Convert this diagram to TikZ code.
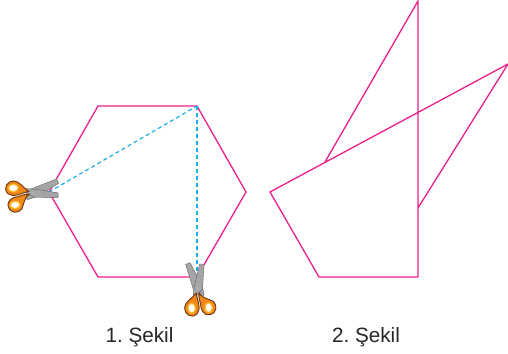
\documentclass[tikz,border=0pt]{standalone}
\usepackage{fontspec}
\setmainfont{Liberation Sans}
\usepackage{xcolor}
\definecolor{cutpink}{RGB}{236,30,140}
\definecolor{cutblue}{RGB}{30,175,235}
\definecolor{handleorange}{RGB}{240,135,25}
\definecolor{handlelight}{RGB}{250,190,50}
\definecolor{handledark}{RGB}{110,55,15}
\definecolor{bladegrey}{RGB}{165,165,168}
\tikzset{
    edge/.style={cutpink, line width=1.3pt, line join=miter},
    cut/.style={cutblue, line width=1.2pt, dash pattern=on 4pt off 3pt},
    caption/.style={font=\fontsize{20.7}{22}\selectfont, text=black!85, inner sep=0pt, anchor=base},
    blade/.style={fill=bladegrey, draw=black!60, line width=0.4pt},
    handle/.style={fill=handleorange, draw=handledark, line width=0.9pt},
    scissors/.pic={
        % blades
        \path[blade] (-9,2) -- (-1,-4.5) -- (25,-11.5) -- (26.5,-7) -- (4,4) -- (-6,6) -- cycle;
        \path[blade] (-9,-4) -- (-6,-5) -- (3,-3.5) -- (25,2.5) -- (24.5,7) -- (0,4.5) -- cycle;
        % handles
        \path[handle] (-4,-2) .. controls (-12,-1) and (-20,3) .. (-25,-2) .. controls (-30,-8) and (-24,-15) .. (-18,-14) .. controls (-12,-13) and (-10,-7) .. (-4,-2) -- cycle;
        \path[handle] (-4,1) .. controls (-9,3) and (-10,10) .. (-13,15) .. controls (-17,19) and (-25,18) .. (-26,11) .. controls (-27,4) and (-20,2) .. (-15,2) .. controls (-10,1) and (-7,0) .. (-4,1) -- cycle;
        \fill[handlelight] (-19,-7) ellipse (5.6 and 4.4);
        \fill[handlelight] (-19,10) ellipse (5.6 and 4.4);
        \fill[white] (-19,-7) ellipse (4 and 2.9);
        \fill[white] (-19,10) ellipse (4 and 2.9);
        \fill[black!30] (0,0) circle (1.6);
    }
}
\begin{document}
\begin{tikzpicture}[x=1pt, y=-1pt]
\useasboundingbox (0,0) rectangle (508,353);
% Hexagon
\coordinate (h1) at (98,106);
\coordinate (h2) at (197,106);
\coordinate (h3) at (246,192);
\coordinate (h4) at (197,277);
\coordinate (h5) at (98,277);
\coordinate (h6) at (49,192);
\draw[edge] (h1) -- (h2) -- (h3) -- (h4) -- (h5) -- (h6) -- cycle;
\draw[cut] (h6) -- (h2);
\draw[cut] (h2) -- (h4);

% Pieces
\coordinate (p1) at (418,1);
\coordinate (p2) at (418,277);
\coordinate (p3) at (319,277);
\coordinate (p4) at (270,192);
\coordinate (p5) at (325,162);
\coordinate (p6) at (508,64);
\coordinate (p7) at (418,208);
\draw[edge] (p5) -- (p1) -- (p2) -- (p3) -- (p4) -- (p6) -- (p7);

% Scissors
\pic[rotate=6] at (33,193) {scissors};
\pic[rotate=92] at (198,289) {scissors};

% Captions
\node (first) [caption] at (139.5,342) {1.\ Şekil};
\node (second) [caption] at (366,342) {2.\ Şekil};
\end{tikzpicture}
\end{document}
